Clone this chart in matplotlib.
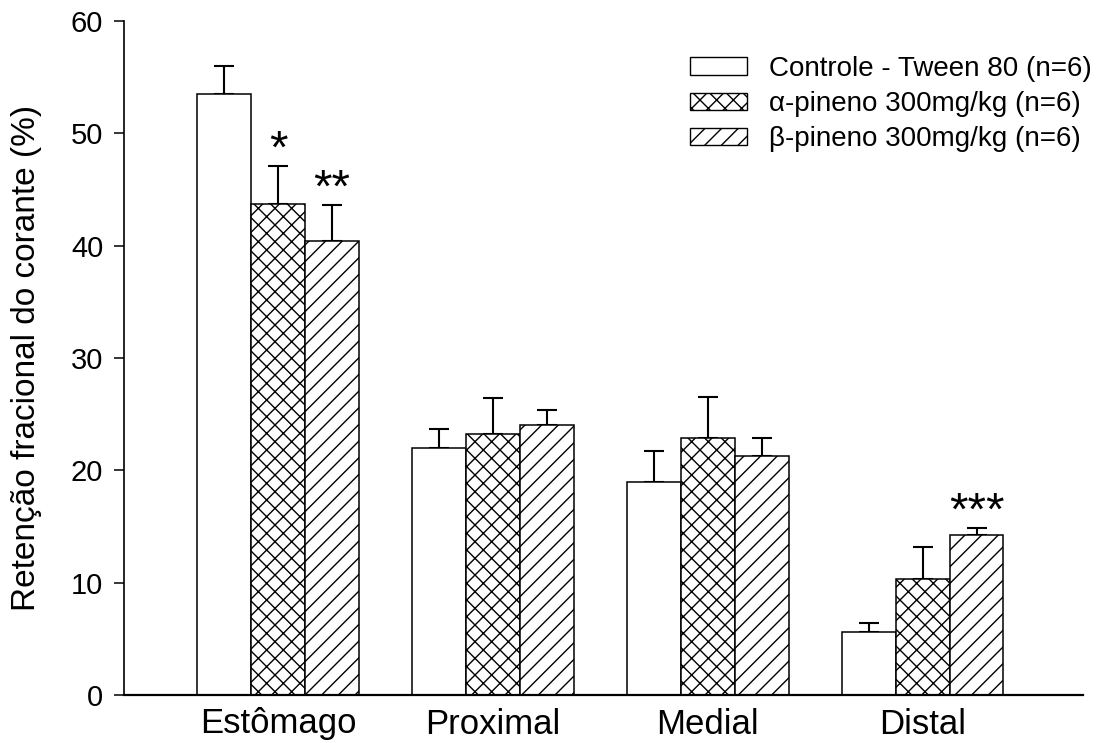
import numpy as np
import matplotlib
matplotlib.use("Agg")
import matplotlib.pyplot as plt
from matplotlib.patches import Patch

# data
segments = ["Estômago", "Proximal", "Medial", "Distal"]
groups = ["Controle - Tween 80 (n=6)", "α-pineno 300mg/kg (n=6)", "β-pineno 300mg/kg (n=6)"]
controle = [53.5, 22.0, 19.0, 5.6]
alfa = [43.7, 23.2, 22.9, 10.3]
beta = [40.4, 24.0, 21.3, 14.2]
controle_sem = [2.5, 1.7, 2.7, 0.8]
alfa_sem = [3.4, 3.2, 3.6, 2.9]
beta_sem = [3.2, 1.4, 1.6, 0.7]
# significance marks: (segment index, group index, text)
marks = [(0, 1, "*"), (0, 2, "**"), (3, 2, "***")]

plt.rcParams["font.family"] = ["Liberation Sans", "DejaVu Sans"]
plt.rcParams["hatch.linewidth"] = 1.0

fig = plt.figure(figsize=(11.06, 7.43), dpi=100)
ax = fig.add_axes([124/1106, 48/743, 959/1106, 674/743])

x = np.arange(len(segments)) * 4.0
means = [controle, alfa, beta]
sems = [controle_sem, alfa_sem, beta_sem]
hatches = ["", "xx", "//"]

for i in range(3):
    pos = x + (i - 1)
    ax.bar(pos, means[i], width=1.0, color="white", edgecolor="black",
           linewidth=1.1, hatch=hatches[i], zorder=2)
    ax.errorbar(pos, means[i], yerr=[np.zeros(4), sems[i]], fmt="none",
                ecolor="black", elinewidth=1.5, capsize=7, capthick=1.5, zorder=1)

for seg, grp, txt in marks:
    top = means[grp][seg] + sems[grp][seg]
    ax.text(x[seg] + grp - 1, top + 0.3, txt, ha="center", va="baseline",
            fontsize=34)

ax.set_xlim(-2.865, 14.98)
ax.set_ylim(0, 60)
ax.set_yticks([0, 10, 20, 30, 40, 50, 60])
ax.set_xticks(x)
ax.set_xticklabels(segments, fontsize=25)
ax.tick_params(axis="x", length=0, pad=9)
ax.tick_params(axis="y", length=7, width=1.1, labelsize=21, pad=8)
ax.spines["top"].set_visible(False)
ax.spines["right"].set_visible(False)
ax.spines["left"].set_linewidth(1.2)
ax.spines["bottom"].set_linewidth(1.6)

ax.set_ylabel("Retenção fracional do corante (%)", fontsize=24)
ax.yaxis.set_label_coords(-0.0855, 0.5)

handles = [Patch(facecolor="white", edgecolor="black", linewidth=1.0, hatch=h) for h in hatches]
ax.legend(handles, groups, loc="upper left", bbox_to_anchor=(690/1106, 1 - 56/743),
          bbox_transform=fig.transFigure, frameon=False, fontsize=20,
          handlelength=2.05, handleheight=0.6, handletextpad=0.8,
          labelspacing=0.33, borderpad=0, borderaxespad=0)

fig.savefig("out.png", dpi=100)
